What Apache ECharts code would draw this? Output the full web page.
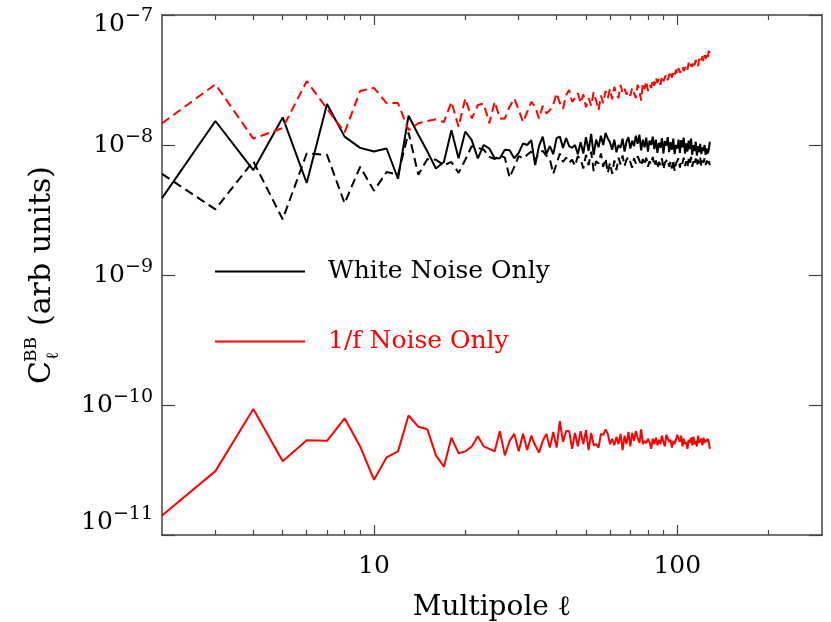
<!DOCTYPE html>
<html>
<head>
<meta charset="utf-8">
<title>C_l^BB noise spectra</title>
<script src="https://cdn.jsdelivr.net/npm/echarts@6/dist/echarts.min.js"></script>
<style>
  html, body { margin: 0; padding: 0; background: #fff; }
  #main { width: 831px; height: 622px; }
</style>
</head>
<body>
<div id="main"></div>
<script>
// multipoles
var ells = [
    2, 3, 4, 5, 6, 7, 8, 9, 10, 11,
    12, 13, 14, 15, 16, 17, 18, 19, 20, 21,
    22, 23, 24, 25, 26, 27, 28, 29, 30, 31,
    32, 33, 34, 35, 36, 37, 38, 39, 40, 41,
    42, 43, 44, 45, 46, 47, 48, 49, 50, 51,
    52, 53, 54, 55, 56, 57, 58, 59, 60, 61,
    62, 63, 64, 65, 66, 67, 68, 69, 70, 71,
    72, 73, 74, 75, 76, 77, 78, 79, 80, 81,
    82, 83, 84, 85, 86, 87, 88, 89, 90, 91,
    92, 93, 94, 95, 96, 97, 98, 99, 100, 101,
    102, 103, 104, 105, 106, 107, 108, 109, 110, 111,
    112, 113, 114, 115, 116, 117, 118, 119, 120, 121,
    122, 123, 124, 125, 126, 127, 128
];

// white noise only (black solid)
var whiteSolid = [
    3.9e-9, 1.53e-8, 6.4e-9, 1.63e-8, 5.1e-9, 2.07e-8, 1.16e-8, 9.5e-9, 8.9e-9, 9.4e-9,
    5.5e-9, 1.68e-8, 1.2e-8, 8.9e-9, 6.6e-9, 7.4e-9, 1.3e-8, 7.9e-9, 1.27e-8, 1.09e-8,
    7.9e-9, 1.0e-8, 9.4e-9, 7.9e-9, 7.9e-9, 9.2e-9, 9.1e-9, 7.9e-9, 8.7e-9, 1.03e-8,
    1.0e-8, 1.09e-8, 7.0e-9, 9.8e-9, 1.16e-8, 8.5e-9, 9.8e-9, 8.5e-9, 1.13e-8, 1.16e-8,
    9.5e-9, 1.13e-8, 9.8e-9, 9.5e-9, 1.0e-8, 8.5e-9, 1.05e-8, 8.6e-9, 1.15e-8, 9.0e-9,
    1.22e-8, 8.4e-9, 1.1e-8, 9.6e-9, 1.18e-8, 1.0e-8, 1.24e-8, 1.12e-8, 1.05e-8, 9.2e-9,
    1.1e-8, 8.8e-9, 1.0e-8, 9.5e-9, 1.12e-8, 8.9e-9, 1.06e-8, 1.15e-8, 9.4e-9, 1.08e-8,
    9.8e-9, 1.18e-8, 1.02e-8, 1.2e-8, 9.1e-9, 1.1e-8, 9.6e-9, 1.14e-8, 8.9e-9, 1.08e-8,
    1.0e-8, 1.16e-8, 9.3e-9, 1.1e-8, 8.7e-9, 1.04e-8, 9.5e-9, 1.13e-8, 8.6e-9, 1.07e-8,
    9.9e-9, 1.15e-8, 8.8e-9, 1.05e-8, 9.2e-9, 1.12e-8, 8.5e-9, 1.0e-8, 9.4e-9, 1.1e-8,
    8.7e-9, 1.09e-8, 9.6e-9, 1.14e-8, 8.6e-9, 1.03e-8, 8.9e-9, 1.08e-8, 9.3e-9, 1.12e-8,
    8.4e-9, 1.0e-8, 9.0e-9, 1.06e-8, 8.3e-9, 9.8e-9, 8.8e-9, 1.02e-8, 8.5e-9, 9.6e-9,
    9.0e-9, 1.0e-8, 8.4e-9, 9.4e-9, 8.6e-9, 9.2e-9, 1.06e-8
];

// black dashed
var whiteDashed = [
    6.0e-9, 3.2e-9, 7.5e-9, 2.68e-9, 8.6e-9, 8.4e-9, 3.56e-9, 6.8e-9, 4.45e-9, 6.2e-9,
    5.9e-9, 1.25e-8, 5.9e-9, 7.8e-9, 7.7e-9, 7.0e-9, 7.4e-9, 6.1e-9, 7.7e-9, 9.8e-9,
    9.5e-9, 9.2e-9, 8.1e-9, 7.8e-9, 8.3e-9, 8.0e-9, 5.6e-9, 6.8e-9, 8.2e-9, 7.9e-9,
    8.4e-9, 8.9e-9, 7.6e-9, 8.7e-9, 9.0e-9, 8.3e-9, 7.8e-9, 6.0e-9, 7.2e-9, 8.6e-9,
    7.4e-9, 8.0e-9, 7.3e-9, 7.7e-9, 6.9e-9, 8.2e-9, 7.8e-9, 6.6e-9, 8.4e-9, 7.0e-9,
    8.9e-9, 6.3e-9, 7.5e-9, 7.2e-9, 8.6e-9, 6.8e-9, 7.9e-9, 6.1e-9, 7.3e-9, 6.0e-9,
    7.6e-9, 6.4e-9, 8.0e-9, 7.1e-9, 8.3e-9, 6.9e-9, 7.7e-9, 8.1e-9, 7.4e-9, 6.7e-9,
    7.9e-9, 7.2e-9, 8.2e-9, 7.6e-9, 6.9e-9, 7.8e-9, 7.0e-9, 8.0e-9, 6.8e-9, 7.5e-9,
    7.1e-9, 8.1e-9, 6.9e-9, 7.6e-9, 6.6e-9, 7.4e-9, 7.0e-9, 7.9e-9, 6.5e-9, 7.3e-9,
    7.1e-9, 7.8e-9, 6.8e-9, 7.5e-9, 6.6e-9, 7.7e-9, 6.3e-9, 7.2e-9, 7.0e-9, 7.9e-9,
    6.7e-9, 7.6e-9, 7.2e-9, 8.0e-9, 6.9e-9, 7.5e-9, 6.7e-9, 7.8e-9, 7.1e-9, 8.1e-9,
    6.8e-9, 7.5e-9, 7.0e-9, 7.9e-9, 6.9e-9, 7.7e-9, 7.2e-9, 8.0e-9, 6.9e-9, 7.6e-9,
    7.3e-9, 7.9e-9, 7.0e-9, 7.6e-9, 7.2e-9, 7.7e-9, 7.0e-9
];

// red dashed
var oneOverFDashed = [
    1.47e-8, 2.93e-8, 1.12e-8, 1.35e-8, 3.1e-8, 1.9e-8, 1.25e-8, 2.6e-8, 2.75e-8, 2.1e-8,
    2.1e-8, 1.3e-8, 1.47e-8, 1.53e-8, 1.58e-8, 1.5e-8, 2.15e-8, 1.38e-8, 2.28e-8, 1.6e-8,
    2.03e-8, 2.08e-8, 1.47e-8, 2.15e-8, 1.6e-8, 1.6e-8, 1.97e-8, 2.28e-8, 1.86e-8, 1.5e-8,
    1.8e-8, 2.15e-8, 1.97e-8, 1.6e-8, 2.0e-8, 1.75e-8, 1.85e-8, 2.05e-8, 2.5e-8, 2.1e-8,
    1.9e-8, 2.42e-8, 2.65e-8, 2.15e-8, 2.3e-8, 2.5e-8, 2.1e-8, 2.45e-8, 1.95e-8, 2.3e-8,
    2.0e-8, 2.55e-8, 2.2e-8, 1.85e-8, 2.4e-8, 2.1e-8, 2.6e-8, 2.3e-8, 2.7e-8, 2.25e-8,
    2.8e-8, 2.45e-8, 2.3e-8, 2.9e-8, 2.5e-8, 2.7e-8, 2.45e-8, 2.6e-8, 2.4e-8, 2.75e-8,
    2.5e-8, 2.3e-8, 2.9e-8, 2.6e-8, 2.2e-8, 3.0e-8, 2.7e-8, 3.1e-8, 2.6e-8, 2.9e-8,
    2.75e-8, 3.2e-8, 2.85e-8, 3.3e-8, 3.0e-8, 3.25e-8, 2.9e-8, 3.4e-8, 3.1e-8, 3.3e-8,
    3.5e-8, 3.15e-8, 3.45e-8, 3.7e-8, 3.3e-8, 3.6e-8, 3.4e-8, 3.8e-8, 3.5e-8, 3.9e-8,
    3.6e-8, 3.75e-8, 4.0e-8, 3.7e-8, 3.9e-8, 4.1e-8, 3.8e-8, 4.3e-8, 3.95e-8, 4.2e-8,
    4.0e-8, 4.4e-8, 4.1e-8, 4.5e-8, 4.2e-8, 4.0e-8, 4.6e-8, 4.3e-8, 4.5e-8, 4.8e-8,
    4.4e-8, 4.9e-8, 4.6e-8, 5.0e-8, 4.7e-8, 5.3e-8, 5.1e-8
];

// 1/f noise only (red solid)
var oneOverFSolid = [
    1.41e-11, 3.1e-11, 9.3e-11, 3.7e-11, 5.35e-11, 5.3e-11, 7.9e-11, 4.8e-11, 2.66e-11, 3.95e-11,
    4.4e-11, 8.3e-11, 6.8e-11, 6.5e-11, 4.1e-11, 3.35e-11, 5.6e-11, 4.26e-11, 4.4e-11, 4.8e-11,
    5.75e-11, 4.8e-11, 4.6e-11, 4.4e-11, 6.3e-11, 4.1e-11, 5.3e-11, 6.0e-11, 4.4e-11, 6.0e-11,
    4.5e-11, 5.8e-11, 4.9e-11, 4.3e-11, 5.3e-11, 6.0e-11, 4.7e-11, 6.2e-11, 4.7e-11, 7.5e-11,
    5.2e-11, 6.3e-11, 6.3e-11, 4.6e-11, 6.1e-11, 4.8e-11, 6.3e-11, 5.0e-11, 6.4e-11, 4.5e-11,
    6.1e-11, 4.9e-11, 5.0e-11, 4.7e-11, 6.0e-11, 5.9e-11, 6.5e-11, 6.0e-11, 5.0e-11, 5.5e-11,
    4.9e-11, 5.7e-11, 5.0e-11, 6.0e-11, 4.5e-11, 5.8e-11, 5.0e-11, 6.2e-11, 4.8e-11, 6.1e-11,
    5.3e-11, 6.3e-11, 5.6e-11, 5.1e-11, 6.5e-11, 5.0e-11, 5.3e-11, 5.1e-11, 5.5e-11, 5.2e-11,
    4.6e-11, 5.5e-11, 5.0e-11, 5.6e-11, 4.9e-11, 5.4e-11, 5.0e-11, 5.8e-11, 5.2e-11, 4.8e-11,
    5.9e-11, 5.7e-11, 5.2e-11, 5.4e-11, 4.7e-11, 5.3e-11, 5.0e-11, 4.9e-11, 5.9e-11, 6.0e-11,
    5.2e-11, 5.8e-11, 4.8e-11, 5.5e-11, 5.0e-11, 5.2e-11, 4.6e-11, 5.4e-11, 5.1e-11, 5.6e-11,
    4.9e-11, 5.7e-11, 5.0e-11, 5.3e-11, 4.8e-11, 5.8e-11, 5.1e-11, 5.0e-11, 5.5e-11, 4.9e-11,
    5.6e-11, 5.1e-11, 5.4e-11, 5.2e-11, 5.5e-11, 5.2e-11, 4.6e-11
];

// ticks
var xMajorTicks = [10, 100];
var xMinorTicks = [3, 4, 5, 6, 7, 8, 9, 20, 30, 40, 50, 60, 70, 80, 90, 200];
var xLabels = [10, 100];

var serif = '"DejaVu Serif", "Liberation Serif", serif';
var axisColor = '#444';

function pairs(xs, ys) {
    var out = [];
    for (var i = 0; i < xs.length; i++) {
        out.push([xs[i], ys[i]]);
    }
    return out;
}

// 10^n labels, top and bottom one pushed inside the frame
function yLabel(v) {
    var e = Math.round(Math.log10(v));
    var sup = '\u2212' + (-e);
    if (e === -7) return '{bt|10}{st|' + sup + '}';
    if (e === -11) return '{bb|10}{sb|' + sup + '}';
    return '{b|10}{s|' + sup + '}';
}

function xAxisDef(pos, ticks, len, withLine, withLabel) {
    return {
        type: 'log',
        logBase: 10,
        min: 2,
        max: 300,
        position: pos,
        gridIndex: 0,
        splitLine: {show: false},
        axisLine: {show: withLine, onZero: false, lineStyle: {color: axisColor, width: 1.5}},
        axisTick: {show: true, inside: true, length: len, customValues: ticks,
            lineStyle: {color: axisColor, width: 1.2}},
        minorTick: {show: false},
        axisLabel: withLabel ? {
            show: true,
            customValues: xLabels,
            margin: 19,
            color: '#000',
            fontFamily: serif,
            fontSize: 25,
            formatter: function(v){ return String(Math.round(v)); }
        } : {show: false},
        name: withLabel ? 'Multipole \u2113' : '',
        nameLocation: 'middle',
        nameGap: 59,
        nameTextStyle: {color: '#000', fontFamily: serif, fontSize: 28}
    };
}

function yAxisDef(pos, withLabel) {
    return {
        type: 'log',
        logBase: 10,
        min: 1e-11,
        max: 1e-7,
        position: pos,
        splitLine: {show: false},
        axisLine: {show: true, onZero: false, lineStyle: {color: axisColor, width: 1.5}},
        axisTick: {show: true, inside: true, length: 13, lineStyle: {color: axisColor, width: 1.2}},
        minorTick: {show: false},
        axisLabel: withLabel ? {
            show: true,
            margin: 9,
            color: '#000',
            fontFamily: serif,
            formatter: yLabel,
            rich: {
                b:  {fontSize: 25, lineHeight: 25, fontFamily: serif, color: '#000'},
                s:  {fontSize: 19, lineHeight: 19, fontFamily: serif, color: '#000', padding: [0, 0, 16, 0]},
                bt: {fontSize: 25, lineHeight: 25, fontFamily: serif, color: '#000', padding: [18, 0, 0, 0]},
                st: {fontSize: 19, lineHeight: 19, fontFamily: serif, color: '#000', padding: [18, 0, 16, 0]},
                bb: {fontSize: 25, lineHeight: 25, fontFamily: serif, color: '#000', padding: [0, 0, 26, 0]},
                sb: {fontSize: 19, lineHeight: 19, fontFamily: serif, color: '#000', padding: [0, 0, 42, 0]}
            }
        } : {show: false}
    };
}

function lineSeries(name, ys, color, dashed) {
    return {
        name: name,
        type: 'line',
        xAxisIndex: 0,
        yAxisIndex: 0,
        data: pairs(ells, ys),
        symbol: 'none',
        showSymbol: false,
        smooth: false,
        animation: false,
        lineStyle: {color: color, width: 2, type: dashed ? [9, 5] : 'solid'},
        itemStyle: {color: color}
    };
}

var chart = echarts.init(document.getElementById('main'), null, {renderer: 'canvas'});

var option = {
    backgroundColor: '#fff',
    animation: false,
    grid: {left: 162, right: 9, top: 15, bottom: 87, containLabel: false, outerBoundsMode: 'none'},
    xAxis: [
        xAxisDef('bottom', xMajorTicks, 10, true, true),
        xAxisDef('bottom', xMinorTicks, 5, false, false),
        xAxisDef('top', xMajorTicks, 10, true, false),
        xAxisDef('top', xMinorTicks, 5, false, false)
    ],
    yAxis: [
        yAxisDef('left', true),
        yAxisDef('right', false)
    ],
    legend: {
        orient: 'vertical',
        left: 215,
        top: 259,
        padding: 0,
        icon: 'rect',
        itemWidth: 90,
        itemHeight: 2,
        itemGap: 45,
        selectedMode: false,
        textStyle: {fontFamily: serif, fontSize: 25, padding: [0, 0, 0, 18]},
        data: [
            {name: 'White Noise Only', textStyle: {color: '#000'}},
            {name: '1/f Noise Only', textStyle: {color: '#ff0000'}}
        ]
    },
    // y title: C_l^BB (arb units), read bottom to top
    graphic: [{
        type: 'group',
        x: 42,
        y: 384,
        rotation: Math.PI / 2,
        children: [
            {type: 'text', x: 0, y: 0, style: {text: 'C', fontFamily: serif, fontSize: 30, fill: '#000', verticalAlign: 'middle'}},
            {type: 'text', x: 22, y: -10, style: {text: 'BB', fontFamily: serif, fontSize: 17, fill: '#000', verticalAlign: 'middle'}},
            {type: 'text', x: 24, y: 12, style: {text: '\u2113', fontFamily: serif, fontSize: 17, fill: '#000', verticalAlign: 'middle'}},
            {type: 'text', x: 58, y: 0, style: {text: '(arb units)', fontFamily: serif, fontSize: 30, fill: '#000', verticalAlign: 'middle'}}
        ]
    }],
    series: [
        lineSeries('White Noise Only', whiteSolid, '#000', false),
        lineSeries('White Noise (dashed)', whiteDashed, '#000', true),
        lineSeries('1/f Noise (dashed)', oneOverFDashed, '#ff0000', true),
        lineSeries('1/f Noise Only', oneOverFSolid, '#ff0000', false)
    ]
};

chart.setOption(option);
</script>
</body>
</html>
